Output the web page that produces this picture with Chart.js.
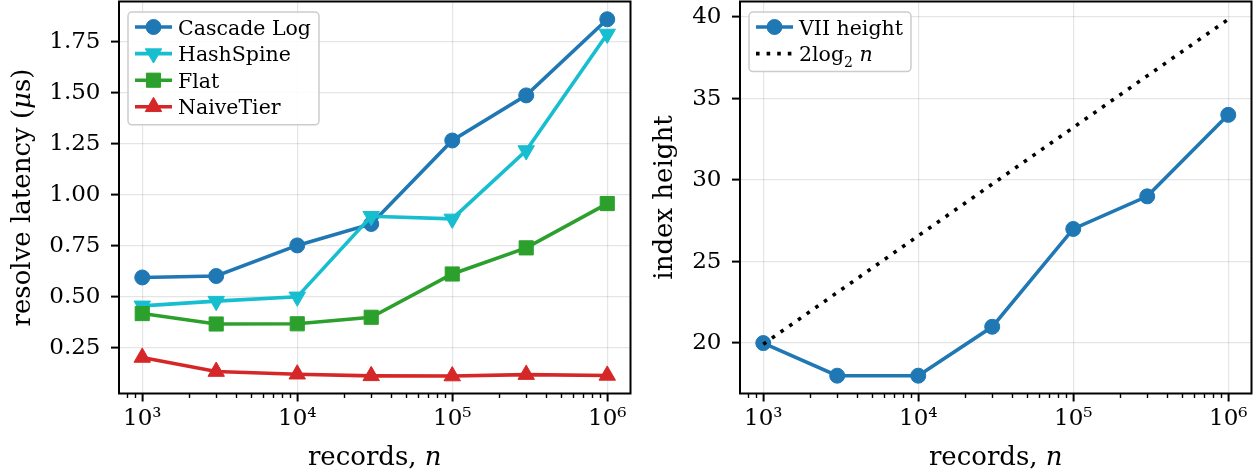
<!DOCTYPE html>
<html>
<head>
<meta charset="utf-8">
<script src="https://cdn.jsdelivr.net/npm/chart.js@4.4.0/dist/chart.umd.min.js"></script>
<style>
  html, body { margin: 0; padding: 0; background: #fff; }
  #wrap { position: relative; width: 1253px; height: 473px; }
  canvas { position: absolute; top: 0; }
</style>
</head>
<body>
<div id="wrap">
  <canvas id="latencyChart" width="640" height="473" style="left:0"></canvas>
  <canvas id="heightChart" width="613" height="473" style="left:640px"></canvas>
</div>
<script>
// data
const records = [1e3, 3e3, 1e4, 3e4, 1e5, 3e5, 1e6];
const cascadeLog = [0.595, 0.602, 0.752, 0.857, 1.266, 1.487, 1.860];
const hashSpine = [0.456, 0.479, 0.500, 0.895, 0.882, 1.217, 1.788];
const flat = [0.418, 0.367, 0.368, 0.400, 0.612, 0.740, 0.957];
const naiveTier = [0.203, 0.134, 0.121, 0.113, 0.112, 0.119, 0.115];
const viiHeight = [20, 18, 18, 21, 27, 29, 34];
const twoLog2n = [19.93, 23.10, 26.58, 29.75, 33.22, 36.39, 39.86];

const latencyTicks = [0.25, 0.50, 0.75, 1.00, 1.25, 1.50, 1.75];
const heightTicks = [20, 25, 30, 35, 40];
const decadeLabels = { 3: '10³', 4: '10⁴', 5: '10⁵', 6: '10⁶' };

const FONT = '"DejaVu Serif", "Liberation Serif", serif';
const GRID = 'rgba(0,0,0,0.1)';
const NONE = 'rgba(0,0,0,0)';
const X_MIN = Math.pow(10, 2.85);
const X_MAX = Math.pow(10, 6.15);
const TITLE_SIZE = 26;

Chart.defaults.font.family = FONT;
Chart.defaults.font.size = 23;
Chart.defaults.color = '#000';

function isDecade(v) {
    const l = Math.log10(v);
    return Math.abs(l - Math.round(l)) < 1e-6;
}

// log-axis tick positions: every integer multiple of a power of ten inside the range
const xTickValues = [];
for (let e = 2; e <= 6; e++) {
    for (let m = 1; m <= 9; m++) {
        const v = m * Math.pow(10, e);
        if (v >= X_MIN && v <= X_MAX) xTickValues.push(v);
    }
}

// draw a run of text pieces, some italic / subscript
function drawParts(ctx, parts, x, y, size, align) {
    const fontFor = st => (st === 'italic' ? 'italic ' : '') + (st === 'sub' ? Math.round(size * 0.7) : size) + 'px ' + FONT;
    let total = 0;
    parts.forEach(([t, st]) => { ctx.font = fontFor(st); total += ctx.measureText(t).width; });
    let cx = align === 'center' ? x - total / 2 : x;
    parts.forEach(([t, st]) => {
        ctx.font = fontFor(st);
        ctx.fillText(t, cx, st === 'sub' ? y + size * 0.28 : y);
        cx += ctx.measureText(t).width;
    });
    return total;
}

function drawMarker(ctx, ds, x, y) {
    if (!ds.pointRadius) return;
    ctx.fillStyle = ds.backgroundColor;
    ctx.strokeStyle = ds.borderColor;
    ctx.lineWidth = 1;
    Chart.helpers.drawPoint(ctx, {
        pointStyle: ds.pointStyle, rotation: ds.pointRotation || 0,
        radius: ds.pointRadius, borderWidth: 1
    }, x, y);
}

// frame, minor ticks, axis titles and a matplotlib style legend
const axesDecor = {
    id: 'axesDecor',
    afterDraw(chart, args, opts) {
        const { ctx, chartArea: a } = chart;
        const xs = chart.scales.x;
        ctx.save();

        // minor ticks
        ctx.strokeStyle = '#000';
        ctx.lineWidth = 1.4;
        xs.ticks.forEach(t => {
            if (isDecade(t.value)) return;
            const px = Math.round(xs.getPixelForValue(t.value)) + 0.5;
            ctx.beginPath();
            ctx.moveTo(px, a.bottom);
            ctx.lineTo(px, a.bottom + 4.5);
            ctx.stroke();
        });

        // frame
        ctx.lineWidth = 2;
        ctx.strokeRect(a.left, a.top, a.right - a.left, a.bottom - a.top);

        // axis titles
        ctx.fillStyle = '#000';
        ctx.textAlign = 'left';
        ctx.textBaseline = 'alphabetic';
        drawParts(ctx, opts.xTitle, (a.left + a.right) / 2, 465, TITLE_SIZE, 'center');
        ctx.save();
        ctx.translate(opts.yTitleX, (a.top + a.bottom) / 2);
        ctx.rotate(-Math.PI / 2);
        drawParts(ctx, opts.yTitle, 0, 0, TITLE_SIZE, 'center');
        ctx.restore();

        // legend
        const datasets = chart.data.datasets;
        const size = 20.5, rowH = 26.6;
        const bx = a.left + 9, by = a.top + 10.5;
        let textW = 0;
        datasets.forEach(ds => {
            ctx.font = size + 'px ' + FONT;
            textW = Math.max(textW, ctx.measureText(ds.legendParts.map(p => p[0]).join('')).width);
        });
        const bw = 50 + textW + 8;
        const bh = 15 + (datasets.length - 1) * rowH + 18;
        ctx.beginPath();
        ctx.roundRect(bx, by, bw, bh, 4);
        ctx.fillStyle = 'rgba(255,255,255,0.85)';
        ctx.fill();
        ctx.strokeStyle = '#cccccc';
        ctx.lineWidth = 1.5;
        ctx.stroke();

        datasets.forEach((ds, i) => {
            const ry = by + 15 + i * rowH;
            ctx.save();
            ctx.strokeStyle = ds.borderColor;
            ctx.lineWidth = ds.borderWidth;
            ctx.setLineDash(ds.borderDash || []);
            ctx.beginPath();
            ctx.moveTo(bx + 7, ry);
            ctx.lineTo(bx + 44, ry);
            ctx.stroke();
            ctx.restore();
            drawMarker(ctx, ds, bx + 25.5, ry);
            ctx.fillStyle = '#000';
            drawParts(ctx, ds.legendParts, bx + 50, ry + 7.5, size, 'left');
        });
        ctx.restore();
    }
};

function series(label, values, color, style, radius, rotation, order, legendParts) {
    return {
        label: label,
        legendParts: legendParts || [[label, '']],
        data: records.map((x, i) => ({ x: x, y: values[i] })),
        borderColor: color,
        backgroundColor: color,
        borderWidth: 3.6,
        pointStyle: style,
        pointRadius: radius,
        pointRotation: rotation,
        pointBorderWidth: 1,
        pointHoverRadius: radius,
        tension: 0,
        order: order
    };
}

function makeOptions(o) {
    return {
        responsive: false,
        animation: false,
        events: [],
        devicePixelRatio: 1,
        layout: { autoPadding: false, padding: { left: 0, right: o.padRight, top: 1.5, bottom: 0 } },
        plugins: {
            legend: { display: false },
            tooltip: { enabled: false },
            axesDecor: { xTitle: [['records, ', ''], ['n', 'italic']], yTitle: o.yTitle, yTitleX: o.yTitleX }
        },
        scales: {
            x: {
                type: 'logarithmic',
                min: X_MIN,
                max: X_MAX,
                border: { display: false },
                afterBuildTicks: s => { s.ticks = xTickValues.map(v => ({ value: v, major: isDecade(v) })); },
                afterFit: s => { s.height = 79.5; s.paddingLeft = 0; s.paddingRight = 0; },
                grid: {
                    color: c => (c.tick && isDecade(c.tick.value) ? GRID : NONE),
                    lineWidth: 1.2,
                    tickColor: c => (c.tick && isDecade(c.tick.value) ? '#000' : NONE),
                    tickLength: 8,
                    tickWidth: 2
                },
                ticks: {
                    autoSkip: false,
                    maxRotation: 0,
                    padding: 4,
                    callback: v => (isDecade(v) ? decadeLabels[Math.round(Math.log10(v))] : '')
                }
            },
            y: {
                min: o.yMin,
                max: o.yMax,
                border: { display: false },
                afterBuildTicks: s => { s.ticks = o.yTicks.map(v => ({ value: v })); },
                afterFit: s => { s.width = o.yWidth; s.paddingTop = 0; s.paddingBottom = 0; },
                grid: { color: GRID, lineWidth: 1.2, tickColor: '#000', tickLength: 8, tickWidth: 2 },
                ticks: { padding: 10.5, callback: o.fmt }
            }
        }
    };
}

new Chart(document.getElementById('latencyChart'), {
    type: 'line',
    data: {
        datasets: [
            series('Cascade Log', cascadeLog, '#1f77b4', 'circle', 7.5, 0, 3),
            series('HashSpine', hashSpine, '#17becf', 'triangle', 9.5, 180, 2),
            series('Flat', flat, '#2ca02c', 'rect', 10, 0, 1),
            series('NaiveTier', naiveTier, '#d62728', 'triangle', 9.5, 0, 0)
        ]
    },
    options: makeOptions({
        yMin: 0.0265, yMax: 1.947, yTicks: latencyTicks, yWidth: 119, padRight: 9.5,
        fmt: v => v.toFixed(2),
        yTitle: [['resolve latency (', ''], ['μ', 'italic'], ['s)', '']],
        yTitleX: 30
    }),
    plugins: [axesDecor]
});

const boundDs = series('2log2 n', twoLog2n, '#000', 'circle', 0, 0, 0,
    [['2log', ''], ['2', 'sub'], [' ', ''], ['n', 'italic']]);
boundDs.borderDash = [3.6, 7];
boundDs.borderWidth = 3.6;

new Chart(document.getElementById('heightChart'), {
    type: 'line',
    data: {
        datasets: [
            series('VII height', viiHeight, '#1f77b4', 'circle', 7.5, 0, 1),
            boundDs
        ]
    },
    options: makeOptions({
        yMin: 16.907, yMax: 40.953, yTicks: heightTicks, yWidth: 100, padRight: 1.5,
        fmt: v => String(v),
        yTitle: [['index height', '']],
        yTitleX: 32
    }),
    plugins: [axesDecor]
});
</script>
</body>
</html>
